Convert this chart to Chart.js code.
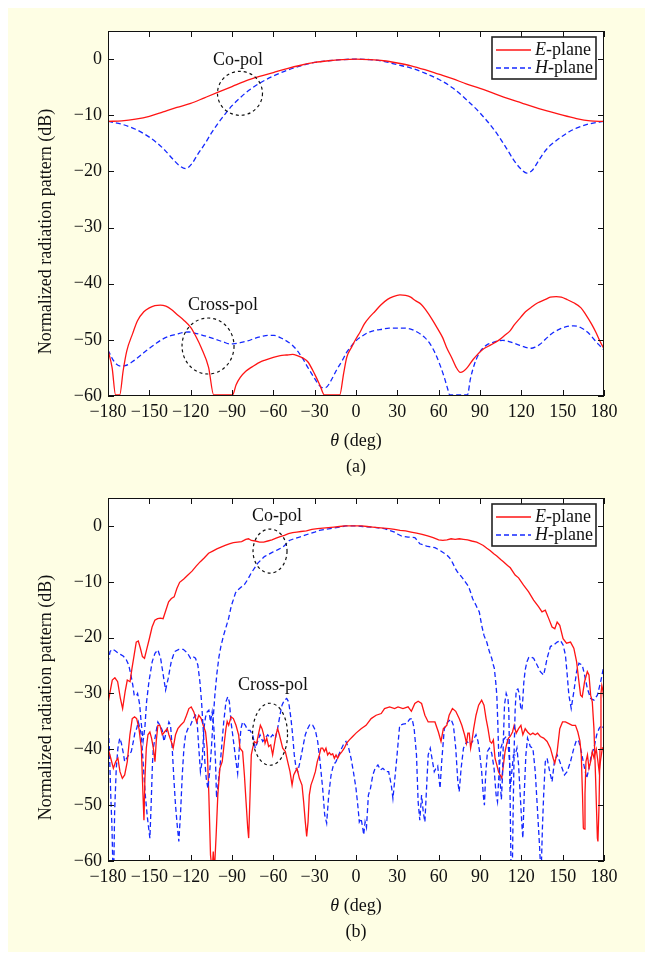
<!DOCTYPE html>
<html>
<head>
<meta charset="utf-8">
<script src="https://cdn.jsdelivr.net/npm/chart.js@4.4.1/dist/chart.umd.min.js"></script>
<style>
  body { margin: 0; background: #fff; }
  #page { position: relative; width: 645px; height: 954px; overflow: hidden; }
  #panel { position: absolute; left: 8px; top: 8px; width: 637px; height: 944px; background: #fefee4; }
  canvas { position: absolute; left: 0; }
</style>
</head>
<body>
<div id="page">
  <div id="panel"></div>
  <canvas id="chartA" width="645" height="480" style="top:0"></canvas>
  <canvas id="chartB" width="645" height="474" style="top:480px"></canvas>
</div>
<script>
const xTicks = [-180, -150, -120, -90, -60, -30, 0, 30, 60, 90, 120, 150, 180];
const yTicks = [-60, -50, -40, -30, -20, -10, 0];

// (a) simulated patterns
const aEcoDeg = [-180,-170,-160,-150,-140,-130,-120,-110,-100,-90,-80,-70,-60,-50,-40,-30,-20,-10,0,10,20,30,40,50,60,70,80,90,100,110,120,130,140,150,160,170,180];
const aEcoDb = [-11.1,-11.0,-10.7,-10.2,-9.4,-8.6,-7.9,-6.9,-5.9,-4.9,-3.9,-3.1,-2.4,-1.7,-1.1,-0.6,-0.3,-0.1,0,-0.1,-0.3,-0.7,-1.2,-1.9,-2.7,-3.5,-4.4,-5.2,-6.1,-7.0,-7.8,-8.6,-9.3,-10.0,-10.6,-11.0,-11.1];

const aHcoDeg = [-180,-170,-160,-150,-140,-133,-128,-123.5,-119,-115,-110,-105,-100,-95,-90,-85,-80,-75,-70,-60,-50,-40,-30,-20,-10,0,10,20,30,40,50,60,70,80,90,100,108,114,119,124,128,132,136,140,145,150,155,160,170,180];
const aHcoDb = [-11.1,-11.6,-12.5,-13.9,-15.9,-17.8,-19.0,-19.5,-18.6,-17.0,-15.2,-13.2,-11.4,-9.8,-8.3,-7.1,-6.0,-5.1,-4.3,-3.0,-2.0,-1.2,-0.6,-0.3,-0.1,0,-0.1,-0.4,-1.0,-1.6,-2.5,-3.6,-5.1,-7.2,-9.6,-12.5,-15.4,-17.8,-19.4,-20.3,-19.8,-18.3,-16.8,-15.6,-14.6,-13.7,-12.9,-12.3,-11.5,-11.1];

const aExDeg = [-180,-177,-174.5,-171.5,-169,-166.4,-162,-158.6,-154,-150,-146,-142,-138,-134,-130.3,-125,-120,-116,-112.3,-107,-103.3,-89.6,-87,-84,-80,-76,-70,-66,-60,-55,-50.5,-46,-42.7,-38,-35,-30,-26,-23,-11.8,-9,-6.7,-3,0,3,6.2,10,13.9,18,22.9,27,31.9,36,39.7,43,47.4,51,55.1,59,62.9,66,69.3,72.5,75.7,78,80.9,85,88.6,92,96.3,100,104,108,111.8,115,119.5,123,127.2,132,137.5,141,145.3,149,153,158,163.3,167,171,174,177,180];
const aExDb = [-51.8,-55,-59.8,-59.8,-55.5,-52,-48.8,-46.6,-45,-44.3,-43.9,-43.8,-44,-44.6,-45.4,-46.5,-47.8,-49.5,-51.4,-54.9,-59.8,-59.8,-58,-56.7,-55.6,-54.9,-54,-53.6,-53.1,-52.8,-52.7,-52.6,-52.8,-53.3,-53.9,-56.1,-58.2,-59.8,-59.8,-56,-53.1,-51.2,-49.8,-48.6,-47.1,-45.9,-44.9,-43.8,-42.8,-42.3,-42,-42.1,-42.4,-43,-43.7,-44.8,-46.3,-47.9,-49.6,-51.5,-53.1,-54.8,-55.8,-55.6,-54.9,-53.5,-52.5,-51.7,-51.1,-50.6,-50,-49.2,-48.4,-47.3,-46,-45,-44.2,-43.4,-42.8,-42.4,-42.3,-42.4,-42.8,-43.4,-44.3,-45.6,-47.2,-48.6,-50.2,-51.6];

const aHxDeg = [-180,-177,-174,-170.5,-167.6,-164,-161.2,-156,-151,-146,-140.6,-135,-130.3,-126,-121.3,-117,-112.3,-107,-102,-96,-92,-89,-84,-78.8,-73,-68.5,-64,-59.5,-55,-50.5,-46,-42.7,-38.5,-35,-31,-27.3,-24.5,-22.1,-18,-14.4,-10,-6.7,-3,-0.2,4,8.8,14,19.1,24,29.4,34,39.7,45,50,54,57.7,61,64.1,66.5,68,80.9,83,86,88.5,91.2,95,98.9,102.5,106.6,110,113.5,116.9,120.5,124,127.2,130,133.5,137.5,142,147.8,152,158.1,163,168.4,172,176,180];
const aHxDb = [-51.8,-53.3,-54.3,-54.7,-54.6,-54.2,-53.7,-52.7,-51.7,-50.8,-49.9,-49.3,-49,-48.7,-48.6,-48.8,-49.1,-49.5,-49.9,-50.4,-50.7,-50.7,-50.5,-50.2,-49.7,-49.4,-49.2,-49.2,-49.6,-50.2,-51,-51.9,-53.4,-54.9,-56.5,-57.9,-58.5,-58.5,-57.2,-55.5,-53.7,-52.2,-51,-50.2,-49.4,-48.7,-48.3,-48.1,-47.9,-47.9,-47.9,-48.1,-48.7,-49.6,-50.8,-52.5,-54.5,-56.7,-58.7,-59.8,-59.8,-57,-54.3,-52.8,-51.7,-50.9,-50.5,-50.2,-50.1,-50.2,-50.5,-50.8,-51.1,-51.4,-51.5,-51.3,-50.8,-49.9,-48.9,-48.1,-47.7,-47.5,-47.8,-48.7,-49.7,-50.8,-51.8];

// (b) measured patterns
const bEcoDeg = [-180,-178.5,-176.9,-175,-173,-171,-169.4,-167.6,-166,-164,-162.6,-161,-159.5,-158,-156.5,-155,-153.5,-152,-150,-148,-146,-144,-142,-140,-138,-136,-134,-132,-130,-128,-125,-122,-119,-116,-113,-110,-107,-104,-101,-98,-95,-92,-89,-86,-83,-80,-78,-76,-73,-70,-67,-64,-61,-58,-55,-52,-49,-46,-43,-40,-36,-32,-28,-24,-20,-16,-12,-8,-4,0,4,8,12,16,20,24,28,32,36,40,44,48,52,56,60,63,66,69,72,75,78,81,84,87.6,90,92.4,95,97.3,100,102.2,105,107,110,112,115.5,118,121.6,125.3,128.9,132.6,135,137.4,139.9,142.3,144.3,146,147.9,150.3,152.8,155.7,158.1,160.1,161.8,163,164.2,165.9,167.9,169.1,170.3,171.5,172.7,173.9,175.2,175.6,176.4,177.1,177.8,178.4,179.2,180];
const bEcoDb = [-31.8,-29.7,-27.6,-27.2,-27.9,-30.9,-32.7,-29.7,-27.6,-27.9,-25.5,-23.1,-20.8,-20.6,-21.9,-23.4,-23.7,-22.2,-20.2,-18.1,-16.9,-16.6,-16.5,-16.6,-15.1,-13.6,-13,-12.7,-11.2,-10.1,-9.5,-8.8,-8.1,-7.2,-6.4,-5.7,-4.9,-4.5,-4.1,-3.8,-3.5,-3.2,-3.0,-2.9,-2.8,-2.4,-2.3,-2.6,-2.7,-2.9,-2.9,-2.7,-2.5,-2.2,-1.9,-1.7,-1.4,-1.2,-1.1,-1.0,-0.9,-0.6,-0.5,-0.4,-0.3,-0.2,-0.1,0,0,0,0,-0.1,-0.2,-0.3,-0.4,-0.5,-0.6,-0.8,-0.9,-1.1,-1.3,-1.5,-1.8,-2.1,-2.5,-2.6,-2.5,-2.3,-2.4,-2.3,-2.4,-2.5,-2.7,-2.9,-3.2,-3.5,-4.0,-4.4,-5.0,-5.4,-6.0,-6.4,-7.1,-7.5,-8.8,-9.3,-10.6,-11.8,-13.3,-14.5,-15.4,-15.1,-16.6,-18.1,-18.4,-17.2,-17.8,-20.2,-21,-20.8,-21.9,-24.3,-27.9,-30.3,-30.6,-27.9,-26.1,-26.7,-30.3,-31.5,-36.3,-45.2,-55.9,-56.5,-50,-40,-30,-28.6,-29.5,-31.5];

const bExDeg = [-180,-178,-176.1,-174.4,-172.8,-171.3,-169.6,-167.9,-166,-164.1,-162.4,-160.7,-159.2,-157.5,-155.8,-154.6,-153.9,-153.2,-152.2,-151,-149.6,-148.4,-147.1,-145.9,-145,-143.8,-142.3,-140.6,-139,-137,-135.8,-134.1,-132.7,-131,-129.3,-127.3,-124.9,-123,-121.3,-119.6,-117.7,-115.7,-114.1,-112.4,-110.9,-109.2,-108,-106.8,-105.6,-104.4,-103.6,-102.8,-101.5,-100.3,-98.8,-97.1,-95.5,-94.4,-93.5,-92.4,-90.7,-89,-87.1,-85.2,-84.2,-82.3,-81,-79.8,-78.6,-77.9,-76.9,-76,-75,-73.8,-72.1,-70.9,-69.4,-68.2,-67,-66,-64.8,-63.4,-61.9,-60.5,-59.3,-58.1,-56.9,-55.6,-54.4,-53.2,-51.3,-49.6,-47.9,-46.4,-45.2,-44,-42.8,-41.1,-39.2,-38,-36.8,-35.8,-34.8,-33.9,-32.7,-31,-29.5,-28.1,-26.6,-25.4,-24.2,-23,-21.8,-20.6,-19.4,-18.1,-16.9,-15.7,-14.5,-13.3,-12.1,-10.2,-8.5,-6.8,-4.8,-2.4,0,3.7,7.3,11,14.6,18.3,20.7,24.4,28,30.5,34.1,37.8,40.2,42.7,45.1,47.6,50,52.4,54.9,57.3,59.8,61.7,63.4,65.9,67.6,70,72.4,74.9,76.8,78.8,80.2,81.2,82.2,83.2,84.1,85.4,87.1,89,91.2,92.9,94.4,95.8,97.3,98.5,99.7,100.9,102.2,103.4,104.6,105.8,107,108.2,109.5,110.7,111.9,113.6,114.8,116.3,118,119.7,121.1,122.8,124.5,126.5,128.4,130.1,131.8,133.8,136.2,138.7,141.1,143.1,144.3,146,147.9,149.9,152,154.5,156.9,159.3,161,162.5,163.5,164.4,165,165.6,166.2,166.9,168,169.1,170.5,171.5,172.7,174.4,175.5,176.5,177.5,178.8,180];
const bExDb = [-39.8,-41.6,-43.4,-42.2,-41.6,-44,-45.2,-44.6,-42.2,-37.4,-34.5,-34.2,-34.5,-36.3,-39.8,-48.2,-52.7,-45.2,-39.8,-37.4,-36.9,-38,-39.8,-42.2,-38.6,-35.7,-35.7,-37.4,-36.9,-36.3,-37.4,-38.6,-39.8,-37.4,-36.3,-35.7,-35.1,-33.9,-32.7,-32.4,-33.3,-35.1,-33.9,-34.5,-35.7,-36.9,-39.8,-48.2,-58.9,-62,-58.3,-62,-55.3,-48.2,-43.4,-42.2,-38.6,-36.3,-35,-35.7,-34.2,-34.5,-35.7,-37.4,-39.8,-40.4,-44.6,-49.4,-54.1,-55.9,-48.2,-41,-39.8,-38.6,-38.9,-37.4,-35.7,-36.3,-37.4,-38.9,-38,-39.5,-39.2,-41,-39.2,-37.4,-36.3,-37.4,-38.6,-39.8,-40.4,-42.2,-44,-46.4,-44.6,-44,-43.4,-45.2,-46.4,-49.4,-53,-55.6,-53,-48.2,-46.4,-45.2,-44,-42.2,-41,-39.8,-39.8,-40.4,-39.8,-41,-40.6,-41,-40.8,-41.6,-41,-41.6,-41,-40.4,-39.8,-38.9,-38.3,-37.7,-37.1,-36.3,-35.7,-34.5,-33.9,-33.6,-32.7,-32.4,-32.7,-32.4,-32.7,-32.4,-33.2,-31.8,-31.4,-31.8,-33.9,-35.1,-35.1,-35.1,-36.9,-38.6,-36.3,-35.7,-33.9,-32.7,-33.2,-34.5,-35.7,-37.4,-38.9,-37.1,-37.1,-39.8,-38.6,-36.3,-33.9,-32.1,-31.2,-32.1,-34.5,-36.3,-38.6,-38.9,-38.3,-41.6,-42.8,-44,-44.6,-45.2,-42.8,-40.4,-38.9,-38,-37.7,-36.9,-35.7,-37.1,-36.3,-35.7,-37.4,-36.3,-36.9,-37.4,-37.1,-37.4,-37.1,-37.7,-38,-38.6,-39.8,-41.6,-42.5,-40.4,-36.3,-35.1,-35.1,-35.4,-35.7,-35.7,-36.9,-38.5,-41,-48.2,-54.1,-54.3,-48,-42.2,-41,-43.4,-42,-40.4,-41.5,-40,-42,-44,-42,-39.8,-39.6];

const bHcoDeg = [-180,-178.5,-177,-175,-173,-171,-169,-167,-165,-163.5,-162,-161,-159.5,-158.5,-157,-156,-154.5,-153.2,-152,-150.3,-147.9,-145.9,-143.8,-141.8,-139.9,-138.2,-136.3,-134.1,-131.7,-128.6,-125.4,-122.5,-120.1,-118.2,-116.5,-114.8,-113.3,-112.1,-110.9,-109.7,-108.7,-107.5,-106.2,-105,-103.8,-102.5,-101,-99.5,-98,-96,-94.4,-92.4,-90.5,-89,-87.5,-85.9,-83.5,-81,-78.6,-76.2,-73.8,-71.4,-69,-66.5,-63.5,-60.5,-57,-53.2,-50.5,-48.4,-45,-41.1,-37.5,-33.9,-30,-26.6,-22,-16.9,-12,-7.3,0,5,11,16,20.7,24.5,28,30.5,32.9,37.8,42.7,44.5,46.3,51.2,57.3,61,63.5,65.9,67.5,69,70.5,72,73.8,75.6,77.5,79.3,81,82.2,83.5,84.6,85.8,87.1,88.2,89.5,91.2,92.9,94.9,96.8,98.5,99.7,100.4,101.4,102.2,102.9,103.6,104.6,105.5,106.3,107,107.8,109,110.3,110.9,111.5,112.2,112.6,113.4,114,114.8,115.5,116.3,117.5,118.5,119.5,120.4,121.1,121.8,122.8,124.1,125.3,126.5,128.9,131.4,133.8,136.2,137.5,138.7,141.1,143.5,146,148.4,150.3,152,153.3,154.5,156.2,158.1,160.1,161.8,164.2,165.9,167.9,170.3,172.7,175.2,177.6,180];
const bHcoDb = [-24.5,-22.5,-22.1,-22.3,-22.7,-23,-23.3,-23.8,-24.9,-26.5,-28.5,-30.3,-30.5,-30,-32,-35,-38.5,-36,-31.5,-27.9,-24.3,-22.8,-22.2,-23.7,-26.7,-29.4,-27.3,-24.3,-22.5,-22.1,-22.1,-22.7,-23.7,-23.4,-23.7,-24.9,-27.9,-31.5,-36.3,-42.2,-45.2,-47,-44,-40,-35,-30.5,-26.5,-23.5,-21.5,-19.5,-18.2,-16.5,-14.3,-13.2,-12,-11.5,-11.0,-10.5,-9.6,-8.5,-7.6,-6.7,-6.1,-5.5,-5.1,-4.7,-4.3,-3.8,-3.2,-2.6,-2.3,-2,-1.7,-1.4,-1.1,-0.8,-0.6,-0.4,-0.2,0,0,-0.1,-0.2,-0.35,-0.5,-0.8,-1.1,-1.5,-1.8,-2,-2.1,-2.6,-3.2,-3.6,-3.9,-4.4,-4.8,-5.2,-5.6,-6.1,-6.8,-7.6,-8.3,-8.8,-9.4,-10,-10.6,-11.2,-12.1,-13,-13.6,-14.2,-14.8,-15.4,-17.8,-19.6,-20.8,-22.5,-23.7,-24.9,-25.5,-27.9,-30.3,-35.1,-41,-45.8,-49,-45,-38,-32,-30,-31,-33,-42,-55,-63,-63,-52,-40,-33,-29.4,-29.2,-30,-32.5,-33,-31,-28,-25.8,-24.3,-23.6,-23.4,-23.7,-24.9,-26.1,-26.7,-25.2,-23.7,-21.6,-21.3,-20.8,-20.5,-21.3,-23.1,-26.7,-30.3,-32.7,-29.7,-26.1,-24.6,-24.9,-26.7,-29.1,-30.9,-31.2,-30.3,-27.9,-24.9];

const bHxDeg = [-180,-179,-178,-177.1,-176.4,-175.8,-175.2,-174,-172.8,-171.5,-170.3,-169.1,-167.9,-166.5,-164.8,-163.1,-161.6,-160.4,-159.2,-158,-156.8,-155.8,-154.6,-153,-151.5,-150.3,-149.6,-148.7,-147.8,-147.1,-145.5,-143.8,-142.3,-140.6,-139.4,-138.2,-137,-135.8,-134.6,-133.4,-132.2,-131,-129.8,-128.6,-127.3,-126.1,-124.9,-123.7,-122,-120.1,-118.2,-116.5,-115.3,-114.1,-112.9,-111.7,-110.4,-109.2,-108,-106.8,-105.6,-104.4,-103.2,-102,-101.2,-100,-98.4,-96,-94.4,-93.1,-91.9,-90.7,-89.5,-88.3,-87.1,-85.9,-84.7,-83.5,-82.3,-80.3,-78.6,-76.9,-75,-73.1,-71.4,-69.7,-67.7,-65.8,-64.1,-62.4,-60.5,-58.5,-56.9,-55.2,-53.7,-52,-50.3,-48.9,-47.2,-46,-44.8,-43.5,-42.3,-40.6,-38.7,-36.8,-35.1,-33.4,-31.4,-29.5,-27.8,-26.1,-24.2,-22.7,-21.3,-19.8,-18.1,-16.4,-14.5,-12.6,-10.9,-9.2,-7.3,-5.3,-3.6,-1.9,0,1.5,2.4,3.7,4.9,5.6,6.6,7.6,9,10.5,12.2,13.9,15.9,17.8,19.5,22,23.7,25.6,26.8,28,29.8,31.7,34.1,36.6,39,40.7,42.2,43.9,45.1,46.3,47.6,48.8,50,51.2,52.4,53.9,55.4,56.8,57.8,59.3,61,62.2,64.1,66.6,69,70.7,72.4,73.9,74.9,76.3,78,80.5,82.9,84.6,87.1,88.5,89.5,91.2,92.4,93.2,94.1,95.4,96.8,98.5,100.2,101.7,102.7,103.6,105.1,107,109,110.2,111.4,112.1,113.1,114.3,115.5,116.8,118,119.2,120.4,121.1,122.1,123.3,124.5,126.5,128.4,130.1,131.8,133.3,134.3,135.3,136.2,137.4,138.7,140.6,142.3,144,146,147.9,149.6,151.3,153.3,155.7,158.1,160.1,161.8,163.5,165.4,167.4,169.1,170.8,172.7,174.7,176.4,178.1,180];
const bHxDb = [-35.1,-39.8,-48.2,-54.1,-62,-62,-51.2,-43.4,-39.8,-38,-38.9,-40.4,-42.2,-41.6,-41,-40.4,-38.6,-36.9,-36.3,-35.1,-36.3,-37.4,-42,-48,-52,-54.5,-55.9,-50,-43,-39.8,-37.4,-35.1,-35.7,-36.6,-38.6,-37.4,-36.3,-35.1,-35.7,-39.8,-45.2,-50,-53.5,-56.5,-51.2,-44.6,-39.8,-37.4,-36.3,-35.7,-34.5,-33.9,-35.1,-39.8,-44,-42.2,-36.3,-34.2,-33.3,-33,-35.1,-33.3,-36,-42,-48.7,-46,-42.2,-35.1,-31.5,-30.6,-31.5,-35.1,-37.4,-39.8,-42.2,-44.3,-39.8,-36.3,-35.1,-35.7,-36.6,-36.6,-37.4,-39.8,-38.6,-37.4,-38.6,-38,-37.4,-38,-37.4,-38,-36.3,-33.9,-32.1,-31.2,-30.9,-31.5,-34.5,-37.4,-41,-43.4,-44,-42.2,-39.8,-37.4,-36.3,-35.5,-35.7,-36.6,-38.6,-42.2,-47,-51.8,-53.2,-48.2,-44.6,-42.8,-42.2,-41,-40.1,-39.2,-38.6,-39.8,-41.6,-44,-47,-50.5,-53,-52.4,-54.1,-55.3,-53,-54,-48.2,-47,-44.6,-43.4,-42.8,-43.7,-43.4,-44,-44,-46.4,-48.8,-45.8,-41,-35.7,-35.5,-35.4,-34.6,-34.5,-36.3,-41,-49.4,-52.7,-48.2,-51.2,-53,-47,-41,-39.8,-42,-44,-43.5,-43,-47,-42.2,-36.3,-35.1,-34.6,-35.7,-39.8,-45.8,-47.6,-43.4,-39.8,-38.6,-39.2,-38.6,-37.4,-38.5,-40.1,-44,-48.2,-50,-44.6,-40.4,-39.8,-40.7,-43.4,-48.2,-49.4,-45.2,-39.8,-38.3,-37.7,-38.6,-42,-47,-44,-41,-41,-39.8,-42.8,-48.2,-53.5,-55.9,-48,-41,-38,-39.5,-39.8,-44,-51.2,-57.7,-63,-54.1,-48.2,-42.2,-41.6,-44,-45.8,-42.2,-41,-42.2,-43.4,-44.6,-44,-42.2,-39.8,-38.3,-38.6,-40.4,-42.8,-45.2,-43.4,-41,-39.8,-37.4,-36.3,-35.7,-36.3];

const RED = '#ff1414';
const BLUE = '#1428ff';
const FONT = '"Liberation Serif", "Times New Roman", serif';

function pts(deg, db) {
  return deg.map((t, i) => ({ x: t, y: db[i] }));
}

function fmt(v) {
  return v < 0 ? '\u2212' + Math.abs(v) : String(v);
}

function series(deg, db, color, dashed, smooth) {
  return {
    data: pts(deg, db),
    borderColor: color,
    borderWidth: 1.3,
    borderDash: dashed ? [5, 3] : [],
    pointRadius: 0,
    fill: false,
    tension: smooth ? 0.4 : 0,
    cubicInterpolationMode: smooth ? 'monotone' : 'default'
  };
}

// frame, inward ticks, legend, notes and titles
function makeOverlay(notes, caption) {
  return {
    id: 'overlay',
    beforeDraw(chart) {
      const { ctx, chartArea: a } = chart;
      ctx.save();
      ctx.fillStyle = '#fff';
      ctx.fillRect(a.left, a.top, a.right - a.left, a.bottom - a.top);
      ctx.restore();
    },
    afterDraw(chart) {
      const { ctx, chartArea: a } = chart;
      const xs = chart.scales.x, ys = chart.scales.y;
      ctx.save();
      ctx.strokeStyle = '#111';
      ctx.lineWidth = 1;
      ctx.setLineDash([]);
      ctx.strokeRect(a.left + 0.5, a.top + 0.5, a.right - a.left - 1, a.bottom - a.top - 1);
      const tl = 6;
      ctx.beginPath();
      xTicks.forEach(v => {
        const px = Math.round(xs.getPixelForValue(v)) + 0.5;
        ctx.moveTo(px, a.bottom); ctx.lineTo(px, a.bottom - tl);
        ctx.moveTo(px, a.top); ctx.lineTo(px, a.top + tl);
      });
      yTicks.forEach(v => {
        const py = Math.round(ys.getPixelForValue(v)) + 0.5;
        ctx.moveTo(a.left, py); ctx.lineTo(a.left + tl, py);
        ctx.moveTo(a.right, py); ctx.lineTo(a.right - tl, py);
      });
      ctx.stroke();

      // notes: dashed circles and labels
      ctx.fillStyle = '#111';
      ctx.textAlign = 'center';
      ctx.textBaseline = 'middle';
      ctx.font = '18px ' + FONT;
      notes.forEach(n => {
        const cx = xs.getPixelForValue(n.x), cy = ys.getPixelForValue(n.y);
        if (n.text) {
          ctx.fillText(n.text, cx, cy);
        } else {
          ctx.setLineDash([3, 3]);
          ctx.lineWidth = 1.2;
          ctx.beginPath();
          ctx.ellipse(cx, cy, n.rx, n.ry, 0, 0, Math.PI * 2);
          ctx.stroke();
          ctx.setLineDash([]);
        }
      });

      // legend
      const bw = 104, bh = 42;
      const bx = a.right - 8 - bw, by = a.top + 6;
      ctx.fillStyle = '#fff';
      ctx.fillRect(bx, by, bw, bh);
      ctx.lineWidth = 1.6;
      ctx.strokeStyle = '#222';
      ctx.strokeRect(bx, by, bw, bh);
      const items = [['E', chart.data.datasets[0]], ['H', chart.data.datasets[1]]];
      items.forEach(([letter, ds], i) => {
        const ry = by + 13 + i * 18;
        ctx.strokeStyle = ds.borderColor;
        ctx.lineWidth = 1.3;
        ctx.setLineDash(ds.borderDash);
        ctx.beginPath();
        ctx.moveTo(bx + 4, ry); ctx.lineTo(bx + 39, ry);
        ctx.stroke();
        ctx.setLineDash([]);
        ctx.fillStyle = '#111';
        ctx.textAlign = 'left';
        ctx.font = 'italic 18px ' + FONT;
        ctx.fillText(letter, bx + 43, ry);
        const w = ctx.measureText(letter).width;
        ctx.font = '18px ' + FONT;
        ctx.fillText('-plane', bx + 43 + w, ry);
      });

      // axis titles and caption
      const mid = (a.left + a.right) / 2;
      ctx.fillStyle = '#111';
      ctx.textBaseline = 'middle';
      ctx.font = 'italic 18px ' + FONT;
      const tw = ctx.measureText('\u03b8').width;
      ctx.font = '18px ' + FONT;
      const rw = ctx.measureText(' (deg)').width;
      const sx = mid - (tw + rw) / 2;
      ctx.textAlign = 'left';
      ctx.font = 'italic 18px ' + FONT;
      ctx.fillText('\u03b8', sx, a.bottom + 45);
      ctx.font = '18px ' + FONT;
      ctx.fillText(' (deg)', sx + tw, a.bottom + 45);
      ctx.textAlign = 'center';
      ctx.fillText(caption, mid, a.bottom + 71);
      ctx.save();
      ctx.translate(46, (a.top + a.bottom) / 2 + 18);
      ctx.rotate(-Math.PI / 2);
      ctx.fillText('Normalized radiation pattern (dB)', 0, 0);
      ctx.restore();
      ctx.restore();
    }
  };
}

function makeChart(id, datasets, notes, caption, padTop, padBottom) {
  return new Chart(document.getElementById(id), {
    type: 'line',
    data: { datasets },
    options: {
      responsive: false,
      animation: false,
      devicePixelRatio: 1,
      layout: { padding: { left: 0, right: 41, top: padTop, bottom: padBottom } },
      plugins: { legend: { display: false }, tooltip: { enabled: false } },
      scales: {
        x: {
          type: 'linear', min: -180, max: 180,
          afterBuildTicks: s => { s.ticks = xTicks.map(v => ({ value: v })); },
          afterFit: s => { s.height = 30; },
          grid: { display: false, drawTicks: false },
          border: { display: false },
          ticks: { autoSkip: false, maxRotation: 0, padding: 5, color: '#111',
                   font: { family: FONT, size: 18 }, callback: v => fmt(v) }
        },
        y: {
          type: 'linear', min: -60, max: 5,
          afterBuildTicks: s => { s.ticks = yTicks.map(v => ({ value: v })); },
          afterFit: s => { s.width = 108; },
          grid: { display: false, drawTicks: false },
          border: { display: false },
          ticks: { padding: 6, color: '#111',
                   font: { family: FONT, size: 18 }, callback: v => fmt(v) }
        }
      }
    },
    plugins: [makeOverlay(notes, caption)]
  });
}

const notesA = [
  { text: 'Co-pol', x: -85.7, y: -0.2 },
  { x: -84.2, y: -6.1, rx: 22.5, ry: 22 },
  { text: 'Cross-pol', x: -96.5, y: -43.9 },
  { x: -107.4, y: -51.1, rx: 26, ry: 28 }
];
const notesB = [
  { text: 'Co-pol', x: -57.3, y: 1.7 },
  { x: -62.4, y: -4.5, rx: 17, ry: 22 },
  { text: 'Cross-pol', x: -60.2, y: -28.5 },
  { x: -62.4, y: -37.3, rx: 17.5, ry: 31 }
];

makeChart('chartA', [
  series(aEcoDeg, aEcoDb, RED, false, true),
  series(aHcoDeg, aHcoDb, BLUE, true, true),
  series(aExDeg, aExDb, RED, false, true),
  series(aHxDeg, aHxDb, BLUE, true, true)
], notesA, '(a)', 31, 54);

makeChart('chartB', [
  series(bEcoDeg, bEcoDb, RED, false, false),
  series(bHcoDeg, bHcoDb, BLUE, true, false),
  series(bExDeg, bExDb, RED, false, false),
  series(bHxDeg, bHxDb, BLUE, true, false)
], notesB, '(b)', 18, 63);
</script>
</body>
</html>
